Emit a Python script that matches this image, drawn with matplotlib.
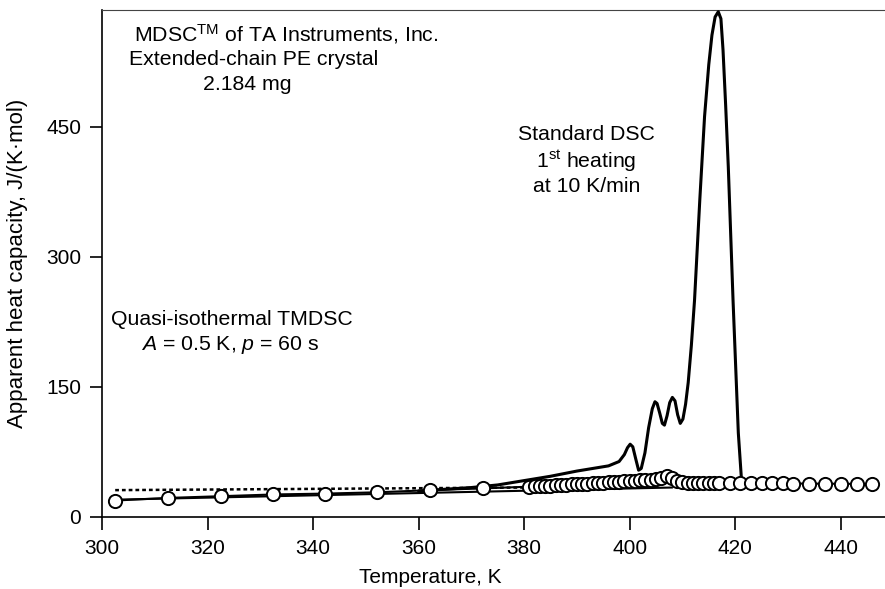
import matplotlib
matplotlib.use("Agg")
import matplotlib.pyplot as plt
from matplotlib import font_manager

plt.rcParams['font.family'] = ['Liberation Sans', 'DejaVu Sans']
plt.rcParams['mathtext.fontset'] = 'custom'
plt.rcParams['mathtext.rm'] = 'Liberation Sans'
plt.rcParams['mathtext.it'] = 'Liberation Sans:italic'
plt.rcParams['mathtext.bf'] = 'Liberation Sans:bold'

names = {f.name for f in font_manager.fontManager.ttflist}
narrow = 'Liberation Sans Narrow' if 'Liberation Sans Narrow' in names else 'Liberation Sans'

# Standard DSC, 1st heating at 10 K/min
dsc_T = [360, 365, 370, 375, 380, 385, 390, 393, 396, 398, 399.0, 399.6, 400.1,
         400.6, 401.2, 401.7, 402.2, 402.9, 403.6, 404.3, 404.8, 405.2, 405.7,
         406.2, 406.6, 407.1, 407.6, 408.1, 408.6, 409.1, 409.6, 410.1, 410.6,
         411.1, 411.7, 412.3, 413.3, 414.2, 415.0, 415.6, 416.2, 416.8, 417.3,
         417.7, 418.2, 418.7, 419.6, 420.6, 421.2]
dsc_cp = [30, 32, 34, 37, 42, 47, 53, 56, 59, 64, 72, 80, 84,
          81, 66, 54, 56, 74, 103, 125, 133, 131, 120,
          108, 106, 117, 132, 138, 134, 118, 108, 113, 130,
          155, 198, 250, 366, 462, 522, 556, 577, 583, 575,
          539, 475, 404, 250, 97, 43]

# Quasi-isothermal TMDSC
qi_T = [302.5, 312.5, 322.5, 332.5, 342.3, 352.2, 362.2, 372.2,
        381, 382, 383, 384, 385, 386, 387, 388, 389, 390, 391, 392, 393, 394,
        395, 396, 397, 398, 399, 400, 401, 402, 403, 404, 405, 406, 407, 408,
        409, 410, 411, 412, 413, 414, 415, 416, 417,
        419, 421, 423, 425, 427, 429, 431, 434, 437, 440, 443, 446]
qi_cp = [19, 22, 24, 26, 27, 28.5, 31, 33,
         35, 35.3, 35.6, 36, 36.3, 36.6, 37, 37.3, 37.6, 38, 38.3, 38.6, 39, 39.3,
         39.6, 40, 40.3, 40.6, 41, 41.4, 41.8, 42.2, 42.6, 43.2, 44, 45.5, 47.5, 45,
         42, 40, 39.5, 39.3, 39.2, 39.1, 39, 39, 39,
         39, 39, 39, 38.8, 38.8, 38.7, 38.6, 38.5, 38.4, 38.3, 38.2, 38]

# crystal baseline and low-temperature dotted reference
base_T = [302.5, 408]
base_cp = [20, 34]
dot_T = [302.5, 380]
dot_cp = [31, 34]

x_ticks = [300, 320, 340, 360, 380, 400, 420, 440]
y_ticks = [0, 150, 300, 450]

fig = plt.figure(figsize=(8.85, 5.89), dpi=100)
ax = fig.add_axes([102/885, 1 - 517/589, 1 - 102/885, 507/589])

ax.plot(base_T, base_cp, color='black', lw=1.5, zorder=2)
ax.plot(dot_T, dot_cp, color='black', lw=1.8, linestyle=(0, (1.5, 1.2)), zorder=2)
ax.plot(dsc_T, dsc_cp, color='black', lw=2.2, zorder=3,
        solid_joinstyle='round', solid_capstyle='round')
ax.plot(qi_T, qi_cp, color='black', lw=1.5, marker='o', markersize=9.5,
        markerfacecolor='white', markeredgecolor='black', markeredgewidth=1.4,
        zorder=4)

ax.set_xlim(300, 448.4)
ax.set_ylim(0, 585)
ax.set_xticks(x_ticks)
ax.set_yticks(y_ticks)
ax.tick_params(direction='out', length=9, width=1.2, labelsize=15, pad=6)
ax.tick_params(axis='x', pad=7)

ax.spines['right'].set_visible(False)
ax.spines['top'].set_linewidth(0.8)
ax.spines['top'].set_color('#444444')
ax.spines['left'].set_linewidth(1.2)
ax.spines['bottom'].set_linewidth(1.2)

ax.set_ylabel('Apparent heat capacity, J/(K·mol)', fontsize=16)
ax.yaxis.set_label_coords(-0.0945, 0.5)
ax.set_xlabel('Temperature, K', fontsize=15, family=[narrow, 'DejaVu Sans'])
ax.xaxis.set_label_coords(0.419, -0.1)

fs = 15.3
ax.text(300 + (287 - 103) / 5.271, 557, r'MDSC$^{\mathrm{TM}}$ of TA Instruments, Inc.',
        fontsize=fs, ha='center', va='center')
ax.text(300 + (254 - 103) / 5.271, 528, 'Extended-chain PE crystal',
        fontsize=fs, ha='center', va='center')
ax.text(300 + (248 - 103) / 5.271, 499, '2.184 mg',
        fontsize=fs, ha='center', va='center')

ax.text(391.8, 441, 'Standard DSC', fontsize=fs, ha='center', va='center')
ax.text(391.8, 410, r'1$^{\mathrm{st}}$ heating', fontsize=fs, ha='center', va='center')
ax.text(391.8, 381, 'at 10 K/min', fontsize=fs, ha='center', va='center')

ax.text(324.6, 228, 'Quasi-isothermal TMDSC', fontsize=fs, ha='center', va='center')
ax.text(324.3, 199, r'$A$ = 0.5 K, $p$ = 60 s', fontsize=fs, ha='center', va='center')

fig.savefig('out.png', dpi=100)
